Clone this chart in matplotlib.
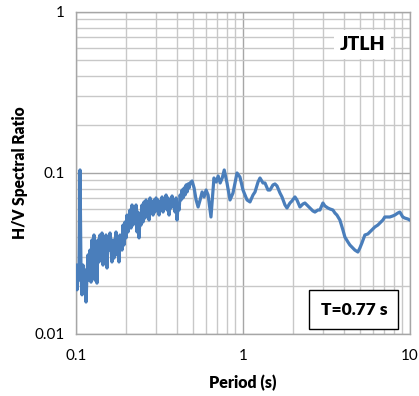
import matplotlib
matplotlib.use("Agg")
import matplotlib.pyplot as plt
from matplotlib.ticker import FixedLocator, NullFormatter

plt.rcParams['font.family'] = ['Lato', 'DejaVu Sans']

# H/V curve (period in s, spectral ratio)
period = [
    0.1000, 0.1014, 0.1028, 0.1042, 0.1057, 0.1072, 0.1086, 0.1101, 0.1117, 0.1132,
    0.1148, 0.1164, 0.1180, 0.1196, 0.1213, 0.1230, 0.1247, 0.1264, 0.1281, 0.1299,
    0.1317, 0.1335, 0.1354, 0.1373, 0.1392, 0.1411, 0.1431, 0.1451, 0.1471, 0.1491,
    0.1512, 0.1533, 0.1554, 0.1576, 0.1598, 0.1642, 0.1665, 0.1688, 0.1736, 0.1760,
    0.1784, 0.1809, 0.1834, 0.1886, 0.1912, 0.1938, 0.1965, 0.1993, 0.2020, 0.2048,
    0.2106, 0.2135, 0.2165, 0.2195, 0.2225, 0.2256, 0.2288, 0.2320, 0.2352, 0.2385,
    0.2418, 0.2451, 0.2485, 0.2520, 0.2555, 0.2591, 0.2627, 0.2663, 0.2700, 0.2738,
    0.2776, 0.2814, 0.2853, 0.2893, 0.2933, 0.2974, 0.3015, 0.3057, 0.3100, 0.3143,
    0.3187, 0.3231, 0.3276, 0.3321, 0.3367, 0.3414, 0.3462, 0.3510, 0.3559, 0.3608,
    0.3658, 0.3709, 0.3761, 0.3813, 0.3866, 0.3920, 0.3974, 0.4029, 0.4085, 0.4142,
    0.4200, 0.4258, 0.4317, 0.4377, 0.4438, 0.4500, 0.4563, 0.4626, 0.4690, 0.4756,
    0.4822, 0.4957, 0.5096, 0.5238, 0.5385, 0.5536, 0.569, 0.585, 0.601, 0.618,
    0.643, 0.670, 0.691, 0.710, 0.730, 0.751, 0.772, 0.802, 0.836, 0.871,
    0.921, 0.959, 1.000, 1.057, 1.101, 1.148, 1.180, 1.230, 1.264, 1.317,
    1.354, 1.411, 1.451, 1.512, 1.554, 1.598, 1.665, 1.712, 1.784, 1.834,
    1.911, 1.964, 2.047, 2.104, 2.193, 2.285, 2.349, 2.448, 2.517, 2.622,
    2.696, 2.810, 2.888, 3.010, 3.095, 3.225, 3.316, 3.455, 3.552, 3.651,
    3.805, 3.965, 4.076, 4.247, 4.366, 4.550, 4.677, 4.874, 5.011, 5.151,
    5.368, 5.593, 5.750, 5.992, 6.160, 6.419, 6.599, 6.876, 7.069, 7.366,
    7.573, 7.891, 8.113, 8.454, 8.691, 9.056, 9.311, 9.702, 9.974,
]
hv_ratio = [
    0.0268, 0.0188, 0.0250, 0.0216, 0.1044, 0.0233, 0.0175, 0.0268, 0.0188, 0.0250,
    0.0158, 0.0233, 0.0310, 0.0216, 0.0332, 0.0210, 0.0384, 0.0250, 0.0412, 0.0216,
    0.0332, 0.0207, 0.0384, 0.0280, 0.0412, 0.0310, 0.0424, 0.0268, 0.0384, 0.0296,
    0.0412, 0.0257, 0.0395, 0.0332, 0.0424, 0.0280, 0.0384, 0.0296, 0.0430, 0.0310,
    0.0384, 0.0280, 0.0412, 0.0332, 0.0475, 0.0357, 0.0496, 0.0395, 0.0548, 0.0430,
    0.0589, 0.0455, 0.0633, 0.0475, 0.0589, 0.0525, 0.0633, 0.0430, 0.0572, 0.0395,
    0.0541, 0.0475, 0.0633, 0.0496, 0.0661, 0.0525, 0.0680, 0.0548, 0.0633, 0.0510,
    0.0700, 0.0572, 0.0661, 0.0548, 0.0680, 0.0572, 0.0700, 0.0606, 0.0680, 0.0548,
    0.0661, 0.0589, 0.0710, 0.0572, 0.0680, 0.0633, 0.0730, 0.0589, 0.0700, 0.0548,
    0.0661, 0.0606, 0.0720, 0.0633, 0.0680, 0.0572, 0.0700, 0.0510, 0.0633, 0.0589,
    0.0730, 0.0680, 0.0784, 0.0700, 0.0807, 0.0730, 0.0843, 0.0762, 0.0855, 0.0807,
    0.0867, 0.0892, 0.0807, 0.0680, 0.0615, 0.0680, 0.0762, 0.0710, 0.0784, 0.0730,
    0.0533, 0.0931, 0.0879, 0.0958, 0.0867, 0.0931, 0.1044, 0.0867, 0.0680, 0.0751,
    0.1000, 0.0944, 0.0784, 0.0680, 0.0661, 0.0730, 0.0762, 0.0879, 0.0931, 0.0867,
    0.0867, 0.0784, 0.0784, 0.0843, 0.0855, 0.0831, 0.0751, 0.0710, 0.0633, 0.0606,
    0.0651, 0.0670, 0.0710, 0.0680, 0.0615, 0.0642, 0.0651, 0.0624, 0.0606, 0.0581,
    0.0572, 0.0589, 0.0589, 0.0651, 0.0624, 0.0606, 0.0598, 0.0589, 0.0564, 0.0548,
    0.0510, 0.0443, 0.0400, 0.0373, 0.0357, 0.0342, 0.0332, 0.0323, 0.0342, 0.0367,
    0.0412, 0.0418, 0.0430, 0.0449, 0.0462, 0.0475, 0.0489, 0.0510, 0.0533, 0.0533,
    0.0533, 0.0541, 0.0548, 0.0564, 0.0572, 0.0533, 0.0525, 0.0518, 0.0510,
]

station = "JTLH"
peak_label = "T=0.77 s"

fig = plt.figure(figsize=(4.19, 3.96), dpi=100)
ax = fig.add_axes([0.1814, 0.1566, 0.7971, 0.8131])

ax.plot(period, hv_ratio, color='#4a7ebb', linewidth=2.3, zorder=3)

ax.set_xscale('log')
ax.set_yscale('log')
ax.set_xlim(0.1, 10)
ax.set_ylim(0.01, 1)

ax.xaxis.set_major_locator(FixedLocator([0.1, 1, 10]))
ax.yaxis.set_major_locator(FixedLocator([0.01, 0.1, 1]))
ax.set_xticklabels(['0.1', '1', '10'])
ax.set_yticklabels(['0.01', '0.1', '1'])
ax.xaxis.set_minor_formatter(NullFormatter())
ax.yaxis.set_minor_formatter(NullFormatter())
ax.tick_params(which='both', length=0, labelsize=11, colors='black')
ax.tick_params(axis='x', pad=11)
ax.tick_params(axis='y', pad=8)

ax.grid(which='major', color='#a6a6a6', linewidth=1.0)
ax.grid(which='minor', color='#c8c8c8', linewidth=1.0)
ax.set_axisbelow(True)
for s in ax.spines.values():
    s.set_color('#a6a6a6')
    s.set_linewidth(1.0)

ax.set_xlabel('Period (s)', fontsize=11.5, fontweight='heavy', labelpad=8)
ax.set_ylabel('H/V Spectral Ratio', fontsize=11.2, fontweight='heavy', labelpad=5)

ax.text(0.858, 0.90, station, transform=ax.transAxes, fontsize=14,
        fontweight='heavy', ha='center', va='center', zorder=4,
        bbox=dict(boxstyle='square,pad=0.3', facecolor='white', edgecolor='none'))
ax.text(0.832, 0.076, peak_label, transform=ax.transAxes, fontsize=12.5,
        fontweight='heavy', ha='center', va='center', zorder=4,
        bbox=dict(boxstyle='square,pad=0.65', facecolor='white', edgecolor='black',
                  linewidth=1.0))

fig.savefig('out.png', dpi=100)
